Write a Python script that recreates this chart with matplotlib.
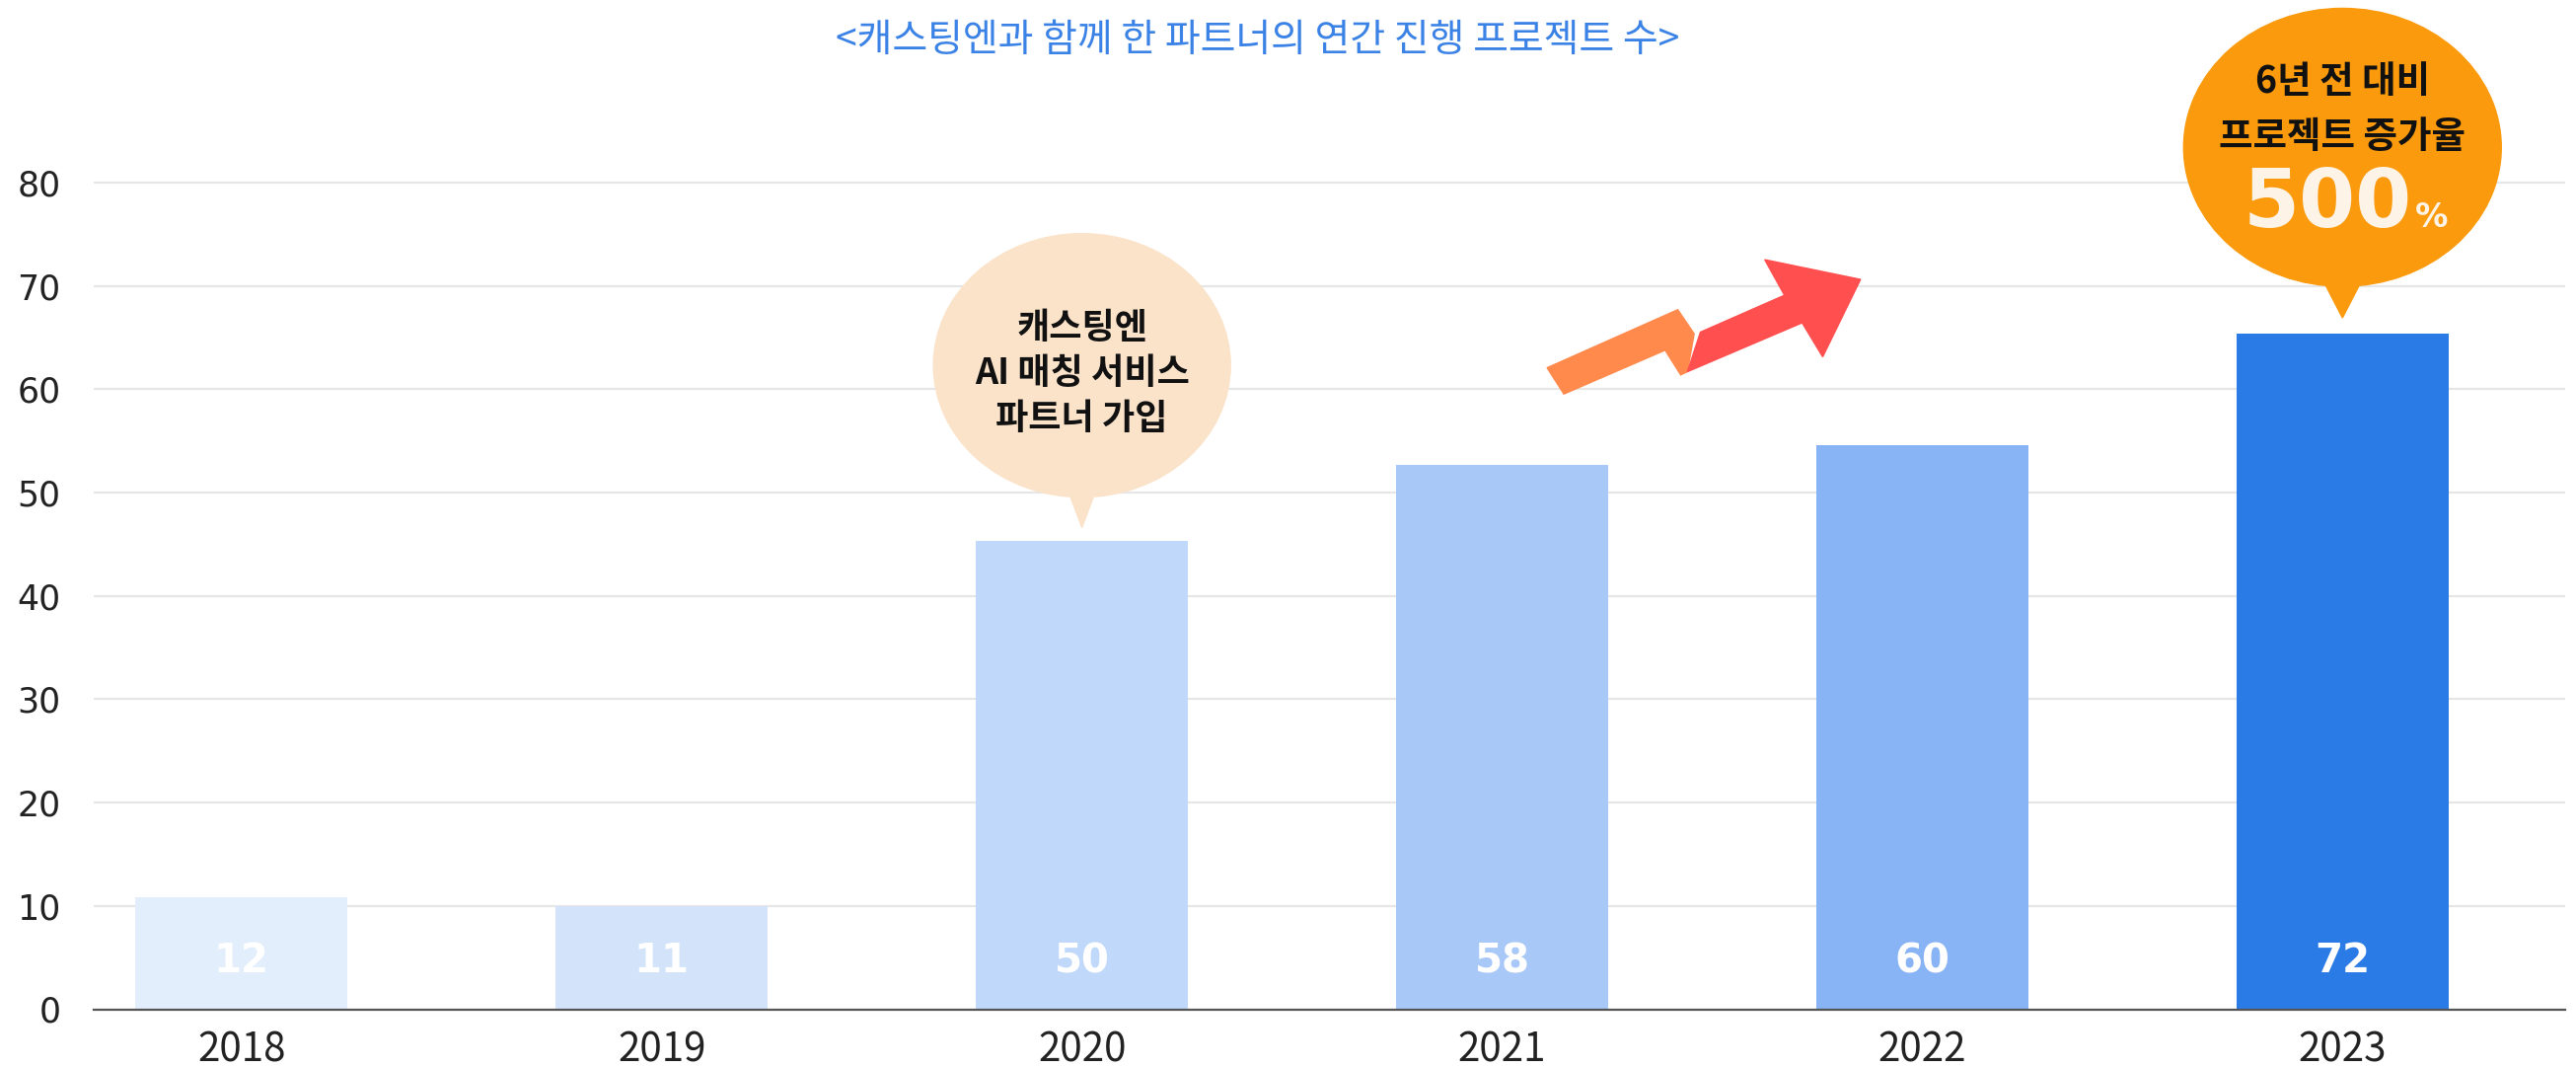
import matplotlib
matplotlib.use("Agg")
import matplotlib.pyplot as plt
from matplotlib.patches import Ellipse, Polygon

plt.rcParams['font.family'] = ['Noto Sans CJK KR', 'DejaVu Sans']

# ---- data ----
years = ['2018', '2019', '2020', '2021', '2022', '2023']
bar_heights = [10.8, 10.0, 45.3, 52.7, 54.6, 65.4]
bar_labels = ['12', '11', '50', '58', '60', '72']
bar_colors = ['#e3eefc', '#d3e4fa', '#c0d9fb', '#a8c8f7', '#88b3f4', '#2b7be6']
yticks = [0, 10, 20, 30, 40, 50, 60, 70, 80]
title = '<캐스팅엔과 함께 한 파트너의 연간 진행 프로젝트 수>'
bubble1_lines = ['캐스팅엔', 'AI 매칭 서비스', '파트너 가입']
bubble2_lines = ['6년 전 대비', '프로젝트 증가율']
bubble2_big = '500'
bubble2_pct = '%'

W, H = 2611, 1081
fig = plt.figure(figsize=(W / 100, H / 100), dpi=100)
ax = fig.add_axes([95 / W, 58.5 / H, (2600 - 95) / W, 0.8233])

x = list(range(len(years)))
bars = ax.bar(x, bar_heights, width=0.505, color=bar_colors, zorder=2)
for b, lab in zip(bars, bar_labels):
    ax.text(b.get_x() + b.get_width() / 2, 4.6, lab, ha='center', va='center',
            color='white', fontsize=29, fontweight='bold', family='DejaVu Sans',
            zorder=3)

ax.set_xlim(-0.352, 5.53)
ax.set_ylim(0, 85)
ax.set_yticks(yticks)
ax.set_yticklabels([str(t) for t in yticks], fontsize=25, color='#222222',
                   family='DejaVu Sans')
ax.set_xticks(x)
ax.set_xticklabels(years, fontsize=29, color='#222222')
ax.tick_params(axis='both', length=0)
ax.tick_params(axis='y', pad=24)
ax.tick_params(axis='x', pad=15)
ax.grid(axis='y', color='#e6e6e6', linewidth=1.6, zorder=0)
ax.set_axisbelow(True)
for s in ['top', 'right', 'left']:
    ax.spines[s].set_visible(False)
ax.spines['bottom'].set_color('#555555')
ax.spines['bottom'].set_linewidth(1.6)
ax.spines['bottom'].set_zorder(4)

# title
fig.text(0.488, 0.962, title, ha='center', va='center', fontsize=28, color='#3b82e6')

# bubble 1 (2020)
c1 = '#fbe3ca'
ax.add_patch(Ellipse((2.0, 62.3), 0.707, 25.5, color=c1, zorder=5, clip_on=False))
ax.add_patch(Polygon([(1.955, 51.5), (2.045, 51.5), (2.0, 46.6)], closed=True,
                     color=c1, zorder=5, clip_on=False))
for yy, t in zip([65.9, 61.5, 57.1], bubble1_lines):
    ax.text(2.0, yy, t, ha='center', va='center', fontsize=26, fontweight='bold',
            color='#111111', zorder=6)

# bubble 2 (2023)
c2 = '#fb9a0c'
ax.add_patch(Ellipse((5.0, 83.4), 0.756, 26.9, color=c2, zorder=5, clip_on=False))
ax.add_patch(Polygon([(4.948, 71.0), (5.052, 71.0), (5.0, 66.9)], closed=True,
                     color=c2, zorder=5, clip_on=False))
for yy, t in zip([89.8, 84.4], bubble2_lines):
    ax.text(5.0, yy, t, ha='center', va='center', fontsize=27, fontweight='bold',
            color='#111111', zorder=6, clip_on=False)
ax.text(5.165, 75.7, bubble2_big, ha='right', va='baseline', fontsize=59,
        fontweight='bold', family='DejaVu Sans', color='#fdf3e6', zorder=6,
        clip_on=False)
ax.text(5.173, 75.7, bubble2_pct, ha='left', va='baseline', fontsize=24,
        fontweight='bold', family='DejaVu Sans', color='#fdf3e6', zorder=6,
        clip_on=False)

# growth arrow
orange = [(3.107, 62.07), (3.418, 67.69), (3.457, 65.36), (3.441, 61.69),
          (3.425, 61.38), (3.388, 63.77), (3.147, 59.53)]
red = [(3.441, 61.69), (3.472, 65.52), (3.672, 69.09), (3.625, 72.53),
       (3.853, 70.62), (3.763, 63.13), (3.714, 66.42)]
ax.add_patch(Polygon(orange, closed=True, color='#ff8a4c', zorder=5, clip_on=False))
ax.add_patch(Polygon(red, closed=True, color='#ff4f4f', zorder=5, clip_on=False))

fig.savefig('out.png', dpi=100, facecolor='white')
